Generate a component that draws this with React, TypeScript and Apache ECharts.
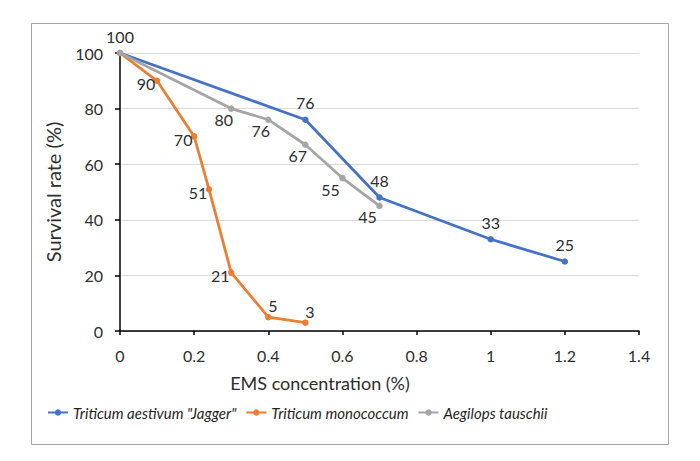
import React, { useEffect, useRef } from "react";
import * as echarts from "echarts";

const seriesNames = ['Triticum aestivum "Jagger"', "Triticum monococcum", "Aegilops tauschii"];
const seriesColors = ["#4472C4", "#ED7D31", "#A5A5A5"];

const jaggerX = [0, 0.5, 0.7, 1, 1.2];
const jaggerY = [100, 76, 48, 33, 25];
const monoX = [0, 0.1, 0.2, 0.24, 0.3, 0.4, 0.5];
const monoY = [100, 90, 70, 51, 21, 5, 3];
const tauschiiX = [0, 0.3, 0.4, 0.5, 0.6, 0.7];
const tauschiiY = [100, 80, 76, 67, 55, 45];

const xTickLabels = ["0", "0.2", "0.4", "0.6", "0.8", "1", "1.2", "1.4"];
const yTickLabels = ["0", "20", "40", "60", "80", "100"];

// label placement names (styling kept apart from data)
const jaggerLabelPlace = ["above", "above", "above", "above", "above"];
const monoLabelPlace = ["none", "left", "left", "left", "left", "aboveRight", "aboveRight"];
const tauschiiLabelPlace = ["none", "belowLeft", "belowLeft", "belowLeft", "belowLeftFar", "belowLeftFar"];

const placeOffsets: Record<string, number[]> = {
  above: [0, -17],
  left: [-11, 3],
  aboveRight: [4.5, -11.5],
  belowLeft: [-7.5, 10.5],
  belowLeftFar: [-12, 11],
};

const FONT = "Lato, 'Noto Sans', sans-serif";
const TEXT = "#2e2e2e";

function buildData(xs: number[], ys: number[], places: string[]) {
  return xs.map((x, i) => {
    const p = places[i];
    if (p === "none") {
      return { value: [x, ys[i]], label: { show: false } };
    }
    return {
      value: [x, ys[i]],
      label: { show: true, position: "inside", offset: placeOffsets[p] },
    };
  });
}

export default function App() {
  const ref = useRef<HTMLDivElement>(null);
  useEffect(() => {
    if (!ref.current) return;
    const chart = echarts.init(ref.current, null, { renderer: "svg" });
    const mk = (idx: number, data: any[]) => ({
      name: seriesNames[idx],
      type: "line",
      data,
      symbol: "circle",
      symbolSize: 6.5,
      color: seriesColors[idx],
      lineStyle: { width: 2.75, color: seriesColors[idx] },
      itemStyle: { color: seriesColors[idx] },
      label: {
        show: true,
        color: TEXT,
        fontSize: 16,
        fontFamily: FONT,
        formatter: (p: any) => String(p.value[1]),
      },
      emphasis: { disabled: true },
    });
    chart.setOption({
      animation: false,
      backgroundColor: "#ffffff",
      grid: { left: 120, right: 61, top: 53, bottom: 130, containLabel: false },
      xAxis: {
        type: "value",
        min: 0,
        max: 1.4,
        interval: 0.2,
        axisLine: { show: true, lineStyle: { color: "#000000", width: 1.5 } },
        axisTick: { show: true, length: 4, lineStyle: { color: "#000000", width: 1.5 } },
        splitLine: { show: false },
        axisLabel: {
          color: TEXT,
          fontSize: 16,
          fontFamily: FONT,
          margin: 16,
          formatter: (v: number) => xTickLabels[Math.round(v / 0.2)] ?? "",
        },
      },
      yAxis: {
        type: "value",
        min: 0,
        max: 100,
        interval: 20,
        name: "Survival rate (%)",
        nameLocation: "middle",
        nameGap: 57,
        nameTextStyle: { color: TEXT, fontSize: 20, fontFamily: FONT },
        axisLine: { show: true, lineStyle: { color: "#000000", width: 1.5 } },
        axisTick: { show: true, length: 5, lineStyle: { color: "#000000", width: 1.5 } },
        splitLine: { show: true, lineStyle: { color: "#D9D9D9", width: 1 } },
        axisLabel: {
          color: TEXT,
          fontSize: 16,
          fontFamily: FONT,
          margin: 17,
          formatter: (v: number) => yTickLabels[Math.round(v / 20)] ?? "",
        },
      },
      legend: {
        left: 47,
        top: 405,
        padding: 0,
        itemWidth: 20,
        itemHeight: 8,
        itemGap: 9,
        selectedMode: false,
        textStyle: {
          color: "#1f1f1f",
          fontSize: 15,
          fontStyle: "italic",
          fontFamily: FONT,
        },
        data: seriesNames,
      },
      graphic: [
        {
          type: "rect",
          shape: { x: 31.5, y: 23.5, width: 637, height: 421 },
          style: { fill: "none", stroke: "#A6A6A6", lineWidth: 1 },
          silent: true,
        },
        {
          type: "text",
          x: 320,
          y: 383,
          style: {
            text: "EMS concentration (%)",
            fill: TEXT,
            fontSize: 18,
            fontFamily: FONT,
            align: "center",
            verticalAlign: "middle",
          },
          silent: true,
        },
      ],
      series: [
        mk(0, buildData(jaggerX, jaggerY, jaggerLabelPlace)),
        mk(1, buildData(monoX, monoY, monoLabelPlace)),
        mk(2, buildData(tauschiiX, tauschiiY, tauschiiLabelPlace)),
      ],
    });
    return () => chart.dispose();
  }, []);
  return (
    <div
      ref={ref}
      style={{ position: "fixed", left: 0, top: 0, width: 700, height: 461 }}
    />
  );
}
